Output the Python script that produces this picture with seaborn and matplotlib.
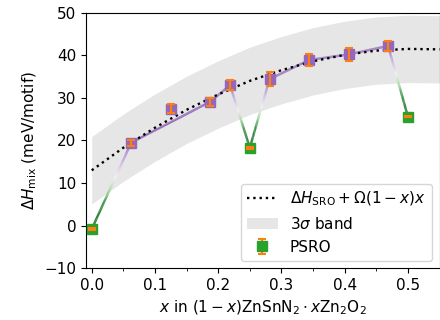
import numpy as np
import matplotlib
matplotlib.use("Agg")
import matplotlib.pyplot as plt
from matplotlib.collections import LineCollection
from matplotlib.colors import LinearSegmentedColormap
from matplotlib.legend_handler import HandlerErrorbar
from matplotlib.ticker import MultipleLocator
import seaborn as sns

# Oxygen fraction x of each computed structure
x_frac = [0.0, 0.0625, 0.125, 0.1875, 0.21875, 0.25, 0.28125, 0.34375, 0.40625, 0.46875, 0.5]
# Mixing enthalpy and its uncertainty (meV/motif)
dh_mix = [-0.8, 19.5, 27.5, 29.1, 33.0, 18.3, 34.4, 38.9, 40.2, 42.2, 25.6]
dh_err = [0.2, 0.7, 1.05, 0.95, 1.1, 0.2, 1.6, 1.5, 1.6, 1.2, 0.2]
# True where the structure is a PSRO configuration
is_psro = [True, False, False, False, False, True, False, False, False, False, True]
# Structures joined along the composition path
path_order = [0, 1, 3, 4, 5, 6, 7, 8, 9, 10]

# Model curve  dH_SRO + Omega(1-x)x  on a composition grid
model_x = [0.0, 0.05, 0.10, 0.15, 0.20, 0.25, 0.30, 0.35, 0.40, 0.45, 0.50, 0.55]
model_y = [13.0, 18.3, 23.0, 27.2, 30.8, 34.0, 36.5, 38.6, 40.1, 41.1, 41.5, 41.4]
three_sigma = 7.9

PURPLE = "#9467bd"
GREEN = "#2ca02c"
ORANGE = "#ff7f0e"

plt.rcParams.update({"font.size": 11, "font.family": ["DejaVu Sans"]})

fig, ax = plt.subplots(figsize=(4.4, 3.2), dpi=100)
fig.subplots_adjust(left=0.1955, right=0.9989, bottom=0.1616, top=0.9603)

# 3-sigma band around the model
mx = np.asarray(model_x)
my = np.asarray(model_y)
band = ax.fill_between(mx, my - three_sigma, my + three_sigma,
                       color="0.9", lw=0, zorder=0.5)

# Path between structures, shaded from purple (SRO) through white to green (PSRO)
path_cmap = LinearSegmentedColormap.from_list(
    "sro_psro", [(0.0, "#9068bb"), (0.2, "#c6aee0"), (0.4, "#f6f4f6"),
                 (0.55, "#a6d9a2"), (0.7, "#2e8d3e"), (1.0, "#11661f")])
segs, cols = [], []
for a, b in zip(path_order[:-1], path_order[1:]):
    ca = 1.0 if is_psro[a] else 0.0
    cb = 1.0 if is_psro[b] else 0.0
    t = np.linspace(0, 1, 81)
    xs = x_frac[a] + (x_frac[b] - x_frac[a]) * t
    ys = dh_mix[a] + (dh_mix[b] - dh_mix[a]) * t
    cv = ca + (cb - ca) * (t[:-1] + t[1:]) / 2
    pts = np.column_stack([xs, ys])
    segs.extend(np.stack([pts[:-1], pts[1:]], axis=1))
    cols.extend(path_cmap(cv))
lc = LineCollection(segs, colors=cols, linewidths=1.7, zorder=1.5,
                    capstyle="butt")
ax.add_collection(lc)

# Model curve
sns.lineplot(x=model_x, y=model_y, ax=ax, color="k", linestyle=":",
             lw=1.7, zorder=2, legend=False)
model_line = ax.lines[-1]

# Structures with error bars drawn over the markers
xa = np.asarray(x_frac)
ya = np.asarray(dh_mix)
ea = np.asarray(dh_err)
mask = np.asarray(is_psro)


def draw_points(sel, color):
    eb = ax.errorbar(xa[sel], ya[sel], yerr=ea[sel], fmt="s", ms=7.5,
                     color=color, mec=color, ecolor=ORANGE, elinewidth=1.5,
                     capsize=3, capthick=1.5)
    data_line, caps, bars = eb.lines
    data_line.set_zorder(3)
    for art in (*caps, *bars):
        art.set_zorder(3.5)
    return eb


draw_points(~mask, PURPLE)
psro = draw_points(mask, GREEN)


class MarkerOnTopHandler(HandlerErrorbar):
    """Legend entry with the square marker painted over its error bar."""

    def create_artists(self, *args, **kwargs):
        arts = super().create_artists(*args, **kwargs)
        return sorted(arts, key=lambda a: getattr(a, "get_marker", lambda: "")() == "s")


ax.set_xlim(-0.009, 0.55)
ax.set_ylim(-10, 50)
ax.xaxis.set_major_locator(MultipleLocator(0.1))
ax.xaxis.set_minor_locator(MultipleLocator(0.05))
ax.yaxis.set_major_locator(MultipleLocator(10))

ax.set_xlabel(r"$x$ in $(1-x)\mathrm{ZnSnN}_2\cdot x\mathrm{Zn}_2\mathrm{O}_2$")
ax.set_ylabel(r"$\Delta H_{\mathrm{mix}}$ (meV/motif)")

ax.legend([model_line, band, psro],
          [r"$\Delta H_{\mathrm{SRO}} + \Omega(1-x)x$", r"3$\sigma$ band", "PSRO"],
          loc="lower right", handler_map={type(psro): MarkerOnTopHandler()})

fig.savefig("out.png", dpi=100)
